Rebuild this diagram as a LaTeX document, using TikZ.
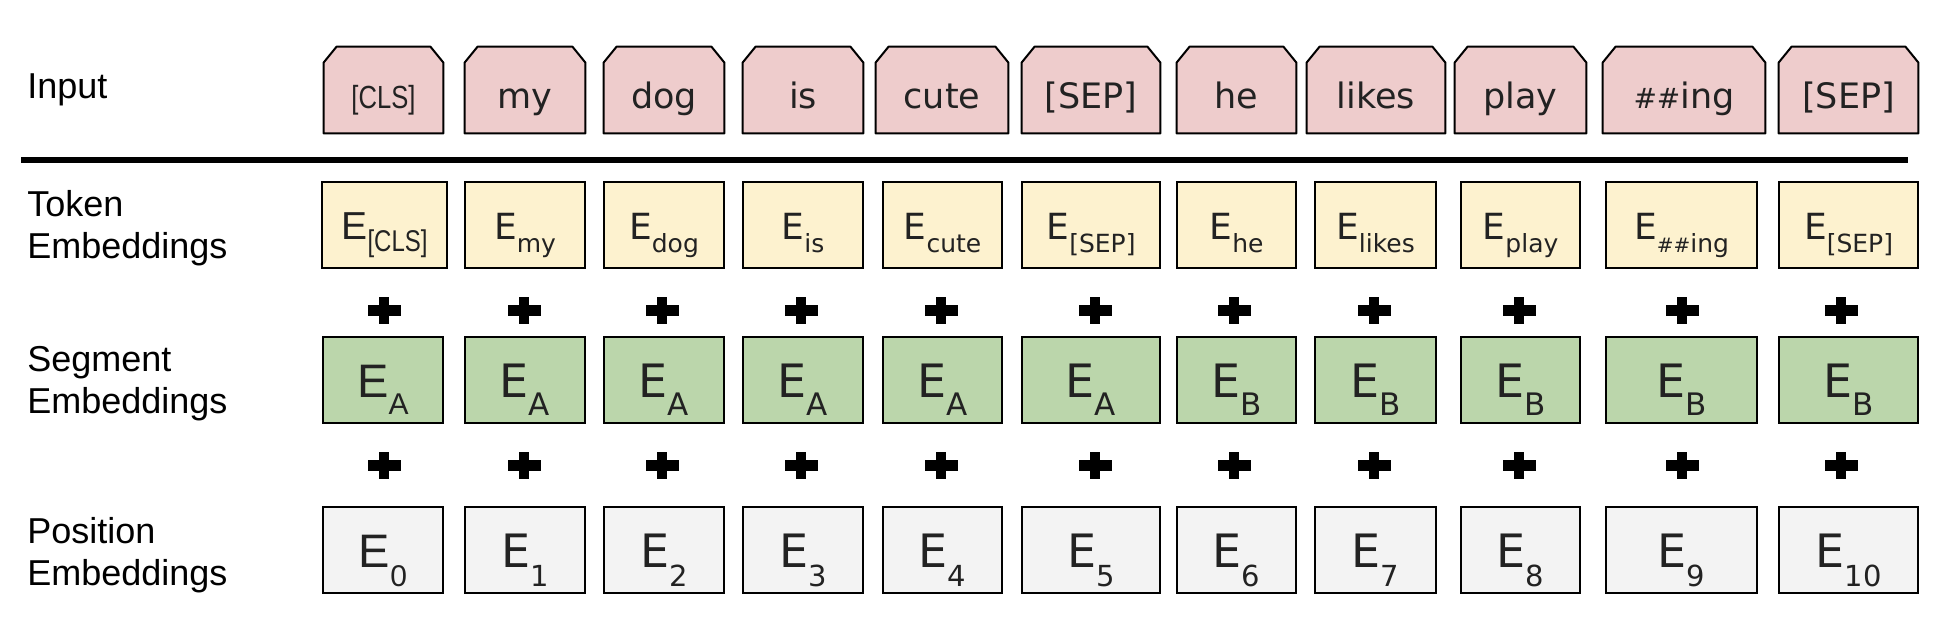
\documentclass[tikz,border=0pt]{standalone}
\usepackage{fontspec}
\setmainfont{Liberation Sans}
\newfontfamily\ar{Liberation Sans}
\newfontfamily\dv{DejaVu Sans}
\usetikzlibrary{backgrounds}
\definecolor{inpink}{HTML}{EECCCC}
\definecolor{tokyel}{HTML}{FDF2CF}
\definecolor{seggreen}{HTML}{BBD6AB}
\definecolor{posgrey}{HTML}{F3F3F3}
\definecolor{boxtext}{HTML}{222222}
\newcommand\Sb[3]{\raisebox{-#2}{\fontsize{#1}{#1}\selectfont #3}}
\newcommand\hh{{\fontsize{14}{14}\selectfont\#\#}}
\newcommand\hs{{\fontsize{10}{10}\selectfont\#\#}}
\newcommand\narrow[1]{\scalebox{0.8}[1]{#1}}
\tikzset{
  lbl/.style={inner sep=0pt, anchor=base west, align=left, font=\ar\fontsize{18}{21}\selectfont},
  inbox/.style={inner sep=0pt, minimum height=43pt, minimum width=#1, text=boxtext,
    text height=18pt, text depth=0pt, font=\dv\fontsize{17.5}{17.5}\selectfont},
  inshape/.style={draw=black, line width=1pt, fill=inpink, line join=round},
  ebox/.style={draw=black, line width=1pt, inner sep=0pt, minimum height=43pt, minimum width=#1, text=boxtext},
  tokbox/.style={ebox=#1, fill=tokyel, text height=14pt, text depth=0pt, font=\dv\fontsize{18}{18}\selectfont},
  segbox/.style={ebox=#1, fill=seggreen, text height=17pt, text depth=0pt, font=\dv\fontsize{23}{23}\selectfont},
  posbox/.style={ebox=#1, fill=posgrey, text height=17pt, text depth=0pt, font=\dv\fontsize{23}{23}\selectfont},
  arialfont/.style={font=\ar\fontsize{#1}{#1}\selectfont},
  sepline/.style={line width=3pt},
}
\begin{document}
\begin{tikzpicture}[x=0.5pt,y=-0.5pt]
\useasboundingbox (0,0) rectangle (1936,634);
% labels
\node[lbl] (lin) at (27,98) {Input};
\node[lbl] (ltok) at (27,258) {Token\\Embeddings};
\node[lbl] (lseg) at (27,413) {Segment\\Embeddings};
\node[lbl] (lpos) at (27,585) {Position\\Embeddings};
% separator
\coordinate (sepL) at (21,160);
\coordinate (sepR) at (1908,160);
\draw[sepline] (sepL) -- (sepR);
% input row
\node[inbox=59.5pt, arialfont=16] (in1) at (383.5,90) {\narrow{[CLS]}};
\node[inbox=60pt] (in2) at (525,90) {my};
\node[inbox=60pt] (in3) at (664,90) {dog};
\node[inbox=60pt] (in4) at (803,90) {is};
\node[inbox=66pt] (in5) at (942,90) {cute};
\node[inbox=69pt] (in6) at (1091,90) {[SEP]};
\node[inbox=59.5pt] (in7) at (1236.5,90) {he};
\node[inbox=69pt] (in8) at (1376,90) {likes};
\node[inbox=65.5pt] (in9) at (1520.5,90) {play};
\node[inbox=81pt] (in10) at (1684,90) {\hh ing};
\node[inbox=69.5pt] (in11) at (1848.5,90) {[SEP]};
\begin{scope}[on background layer]
\foreach \n in {in1,in2,in3,in4,in5,in6,in7,in8,in9,in10,in11}{
  \draw[inshape] (\n.south west) -- ([yshift=-8pt]\n.north west) -- ([xshift=6.5pt]\n.north west)
    -- ([xshift=-6.5pt]\n.north east) -- ([yshift=-8pt]\n.north east) -- (\n.south east) -- cycle;
}
\end{scope}
% token row
\node[tokbox=62.5pt, arialfont=19.5] (t1) at (384.5,225) {E\Sb{15}{6pt}{\narrow{[CLS]}}};
\node[tokbox=60pt] (t2) at (525,225) {E\Sb{12.5}{6.5pt}{my}};
\node[tokbox=60pt] (t3) at (664,225) {E\Sb{12.5}{6.5pt}{dog}};
\node[tokbox=60pt] (t4) at (803,225) {E\Sb{12.5}{6.5pt}{is}};
\node[tokbox=59.5pt] (t5) at (942.5,225) {E\Sb{12.5}{6.5pt}{cute}};
\node[tokbox=69pt] (t6) at (1091,225) {E\Sb{12.5}{6.5pt}{[SEP]}};
\node[tokbox=59.5pt] (t7) at (1236.5,225) {E\Sb{12.5}{6.5pt}{he}};
\node[tokbox=60.5pt] (t8) at (1375.5,225) {E\Sb{12.5}{6.5pt}{likes}};
\node[tokbox=59.5pt] (t9) at (1520.5,225) {E\Sb{12.5}{6.5pt}{play}};
\node[tokbox=75.5pt] (t10) at (1681.5,225) {E\Sb{12.5}{6.5pt}{\hs ing}};
\node[tokbox=69.5pt] (t11) at (1848.5,225) {E\Sb{12.5}{6.5pt}{[SEP]}};
% segment row
\node[segbox=60pt, arialfont=23.5] (s1) at (383,380) {E\Sb{15}{8.5pt}{A}};
\node[segbox=60pt] (s2) at (525,380) {E\Sb{15.5}{9pt}{A}};
\node[segbox=60pt] (s3) at (664,380) {E\Sb{15.5}{9pt}{A}};
\node[segbox=60pt] (s4) at (803,380) {E\Sb{15.5}{9pt}{A}};
\node[segbox=59.5pt] (s5) at (942.5,380) {E\Sb{15.5}{9pt}{A}};
\node[segbox=69pt] (s6) at (1091,380) {E\Sb{15.5}{9pt}{A}};
\node[segbox=59.5pt] (s7) at (1236.5,380) {E\Sb{15.5}{9pt}{B}};
\node[segbox=60.5pt] (s8) at (1375.5,380) {E\Sb{15.5}{9pt}{B}};
\node[segbox=59.5pt] (s9) at (1520.5,380) {E\Sb{15.5}{9pt}{B}};
\node[segbox=75.5pt] (s10) at (1681.5,380) {E\Sb{15.5}{9pt}{B}};
\node[segbox=69.5pt] (s11) at (1848.5,380) {E\Sb{15.5}{9pt}{B}};
% position row
\node[posbox=60pt, arialfont=23.5] (p1) at (383,550) {E\Sb{15}{9.5pt}{0}};
\node[posbox=60pt] (p2) at (525,550) {E\Sb{14.5}{9.5pt}{1}};
\node[posbox=60pt] (p3) at (664,550) {E\Sb{14.5}{9.5pt}{2}};
\node[posbox=60pt] (p4) at (803,550) {E\Sb{14.5}{9.5pt}{3}};
\node[posbox=59.5pt] (p5) at (942.5,550) {E\Sb{14.5}{9.5pt}{4}};
\node[posbox=69pt] (p6) at (1091,550) {E\Sb{14.5}{9.5pt}{5}};
\node[posbox=59.5pt] (p7) at (1236.5,550) {E\Sb{14.5}{9.5pt}{6}};
\node[posbox=60.5pt] (p8) at (1375.5,550) {E\Sb{14.5}{9.5pt}{7}};
\node[posbox=59.5pt] (p9) at (1520.5,550) {E\Sb{14.5}{9.5pt}{8}};
\node[posbox=75.5pt] (p10) at (1681.5,550) {E\Sb{14.5}{9.5pt}{9}};
\node[posbox=69.5pt] (p11) at (1848.5,550) {E\Sb{14.5}{9.5pt}{10}};
% plus signs
\foreach \px in {384,524,662,801,941,1095,1234,1374,1519,1682,1841}{
  \foreach \py in {310,465}{
    \fill ({\px-16.5},{\py-5.5}) rectangle ({\px+16.5},{\py+5.5});
    \fill ({\px-5},{\py-13.5}) rectangle ({\px+5},{\py+13.5});
  }
}
\end{tikzpicture}
\end{document}
